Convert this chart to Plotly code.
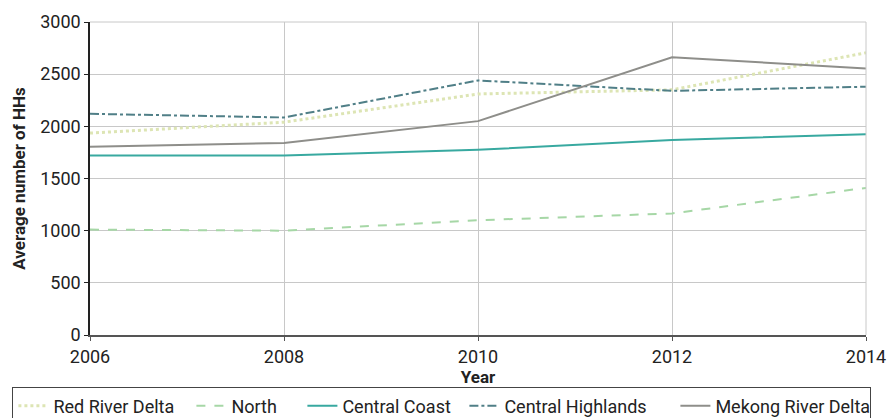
import plotly.graph_objects as go

years = [2006, 2008, 2010, 2012, 2014]
red_river_delta = [1935, 2040, 2310, 2350, 2705]
north = [1010, 1000, 1100, 1165, 1410]
central_coast = [1720, 1720, 1775, 1870, 1925]
central_highlands = [2120, 2085, 2440, 2340, 2380]
mekong_river_delta = [1805, 1840, 2050, 2662, 2555]

series = [
    ("Red River Delta", red_river_delta, "#dde5b4", "dot", 3, 133),
    ("North", north, "#a6d7a6", "dash", 2, 66),
    ("Central Coast", central_coast, "#38a9a0", "solid", 2, 117),
    ("Central Highlands", central_highlands, "#507f87", "dashdot", 2, 166),
    ("Mekong River Delta", mekong_river_delta, "#8e8e8a", "solid", 2, 150),
]

FONT = "Roboto, sans-serif"

fig = go.Figure()
for name, vals, color, dash, w, lw in series:
    fig.add_trace(go.Scatter(x=years, y=vals, name=name, mode="lines", legendwidth=lw,
                             line=dict(color=color, dash=dash, width=w)))

fig.update_layout(
    width=888, height=418,
    margin=dict(l=89.5, r=22, t=22, b=83, autoexpand=False),
    plot_bgcolor="white", paper_bgcolor="white",
    font=dict(family=FONT, size=18, color="#222"),
    legend=dict(orientation="h", x=-0.1, y=-0.165, xanchor="left", yanchor="top",
                bordercolor="#444", borderwidth=1, font=dict(size=18),
                tracegroupgap=0),
    showlegend=True,
)
fig.update_xaxes(range=[2006, 2014], tickvals=years, showgrid=True, gridcolor="#c8c8c8",
                 showline=True, linecolor="#555", linewidth=2, ticks="outside", ticklen=4,
                 tickcolor="#555", mirror=False, zeroline=False,
                 title=dict(text="<b>Year</b>", font=dict(size=17), standoff=4))
fig.update_yaxes(range=[0, 3000], tickvals=[0, 500, 1000, 1500, 2000, 2500, 3000],
                 showgrid=True, gridcolor="#c8c8c8", showline=True, linecolor="#222",
                 linewidth=1.5, ticks="outside", ticklen=4, tickcolor="#222", zeroline=False,
                 title=dict(text="<b>Average number of HHs</b>", font=dict(size=17), standoff=10))
# top and right border as gridlines
fig.add_shape(type="line", xref="paper", yref="paper", x0=0, x1=1, y0=1, y1=1,
              line=dict(color="#c8c8c8", width=1))
fig.add_shape(type="line", xref="paper", yref="paper", x0=1, x1=1, y0=0, y1=1,
              line=dict(color="#c8c8c8", width=1))

fig.write_html("out.html", config={"displayModeBar": False},
               post_script="document.body.style.margin='0';document.body.style.overflow='hidden';")
